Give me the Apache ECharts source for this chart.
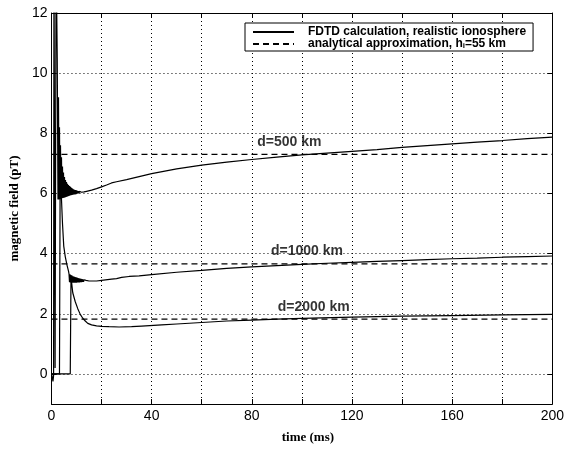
<!DOCTYPE html>
<html>
<head>
<meta charset="utf-8">
<title>magnetic field</title>
<script src="https://cdn.jsdelivr.net/npm/echarts@6/dist/echarts.min.js"></script>
<style>
  html, body { margin: 0; padding: 0; background: #fff; }
  #chart { width: 567px; height: 449px; }
</style>
</head>
<body>
<div id="chart"></div>
<script>
// values: [time (ms), field (pT)]
var fdtd500 = [
  [0,0],[0.3,-0.1],[0.6,-0.25],[0.85,-0.05],[1.0,14],[1.3,14],[1.45,0.2],[1.85,14],[2.3,10.5],
  [2.6,5.8],[2.8,9.2],
  [3.0,5.80],[3.2,8.2],[3.4,5.81],[3.6,7.6],[3.8,5.82],[4.0,7.2],[4.2,5.84],[4.4,6.9],[4.6,5.85],
  [4.8,6.7],[5.0,5.86],[5.2,6.55],[5.4,5.87],[5.6,6.45],[5.8,5.88],[6.0,6.38],[6.2,5.89],[6.4,6.32],
  [6.6,5.91],[6.8,6.28],[7.0,5.92],[7.2,6.25],[7.4,5.93],[7.6,6.22],[7.8,5.94],[8.0,6.19],[8.2,5.95],
  [8.4,6.16],[8.6,5.96],[8.8,6.14],[9.0,5.97],[9.2,6.12],[9.4,5.97],[9.6,6.11],[9.8,5.98],[10.0,6.10],
  [10.2,5.99],[10.4,6.09],[10.6,6.00],[10.8,6.08],[11.0,6.00],[11.2,6.07],[11.4,6.01],[11.6,6.06],
  [11.8,6.02],[12.0,6.04],
  [13,6.05],[14,6.07],[16,6.11],[18,6.16],[20,6.22],[22,6.28],[24,6.35],[26,6.39],[30,6.46],[35,6.56],
  [40,6.66],[50,6.82],[60,6.94],[70,7.04],[80,7.13],[90,7.21],[100,7.28],[110,7.34],[120,7.40],
  [130,7.46],[140,7.53],[150,7.59],[160,7.65],[170,7.71],[180,7.76],[190,7.82],[200,7.87]
];
var fdtd1000 = [
  [0,0],[3.2,0],[3.45,6.25],[3.9,6.0],[4.4,5.0],[4.9,4.25],[5.5,3.9],[6.2,3.62],[6.8,3.42],
  [7.0,3.33],[7.2,3.05],[7.4,3.31],[7.6,3.04],[7.8,3.29],[8.0,3.03],[8.2,3.27],[8.4,3.03],[8.6,3.25],
  [8.8,3.03],[9.0,3.24],[9.2,3.03],[9.4,3.22],[9.6,3.03],[9.8,3.21],[10.0,3.03],[10.2,3.20],[10.4,3.04],
  [10.6,3.19],[10.8,3.04],[11.0,3.18],[11.2,3.04],[11.4,3.17],[11.6,3.05],[11.8,3.16],[12.0,3.05],
  [12.2,3.15],[12.4,3.06],[12.6,3.14],[12.8,3.06],[13.0,3.13],[13.2,3.07],[13.4,3.12],[13.6,3.07],
  [13.8,3.11],[14.0,3.08],
  [15,3.09],[16,3.09],[18,3.09],[20,3.11],[24,3.15],[26,3.17],[28,3.21],[31,3.24],[35,3.26],[40,3.30],
  [50,3.38],[60,3.44],[70,3.51],[80,3.56],[90,3.60],[100,3.64],[110,3.68],[120,3.71],[130,3.74],
  [140,3.77],[150,3.80],[160,3.83],[170,3.85],[180,3.88],[190,3.90],[200,3.92]
];
var fdtd2000 = [
  [0,0],[4,0],[7.5,0],[7.8,3.25],[8.1,3.0],[8.5,2.7],[9.5,2.4],[10.5,2.17],[11.5,1.98],[12.5,1.85],
  [13.5,1.76],[14.5,1.68],[16,1.63],[18,1.60],[20,1.58],[23,1.57],[27,1.56],[32,1.57],[36,1.59],
  [44,1.63],[50,1.66],[60,1.71],[70,1.76],[80,1.79],[90,1.82],[100,1.85],[120,1.89],[140,1.92],
  [160,1.94],[180,1.96],[200,1.98]
];
var anaLevels = [7.30, 3.66, 1.82];   // analytical approximation, pT
var anaSpan = [0, 200];
var labelText = ['d=500 km', 'd=1000 km', 'd=2000 km'];
var labelTime = [95, 102, 104.7];
var labelField = [7.70, 4.07, 2.22];
var yTicks = [0, 2, 4, 6, 8, 10, 12];

var NAME_FDTD = 'FDTD calculation, realistic ionosphere';
var NAME_ANA = 'analytical approximation, h_i=55 km';

var myChart = echarts.init(document.getElementById('chart'));

var boxLine = { show: true, onZero: false, lineStyle: { color: '#000', width: 1 } };
var inTick = { show: true, inside: true, length: 5, lineStyle: { color: '#000', width: 1 } };
var dotted = { show: true, lineStyle: { color: '#000', width: 1, type: [1, 3] } };
var tickFont = { color: '#000', fontSize: 14, fontFamily: 'Liberation Sans' };
var titleFont = { color: '#000', fontSize: 13, fontWeight: 'bold', fontFamily: 'Liberation Serif' };

var series = [];
[fdtd500, fdtd1000, fdtd2000].forEach(function (d) {
  series.push({
    name: NAME_FDTD, type: 'line', data: d, symbol: 'none', silent: true,
    lineStyle: { color: '#000', width: 1.2 }, itemStyle: { color: '#000' }
  });
});
anaLevels.forEach(function (v) {
  series.push({
    name: NAME_ANA, type: 'line', symbol: 'none', silent: true,
    data: [[anaSpan[0], v], [anaSpan[1], v]],
    lineStyle: { color: '#000', width: 1.2, type: [6, 4] }, itemStyle: { color: '#000' }
  });
});
series.push({
  type: 'scatter', silent: true, symbolSize: 1,
  itemStyle: { color: 'transparent' },
  data: labelText.map(function (s, i) { return [labelTime[i], labelField[i], s]; }),
  label: {
    show: true, position: 'inside', color: '#000', fontSize: 14, fontWeight: 'bold',
    fontFamily: 'Liberation Sans',
    formatter: function (p) { return p.data[2]; }
  }
});

var option = {
  animation: false,
  backgroundColor: '#fff',
  grid: { left: 47, right: 13, top: 13, bottom: 39 },
  legend: {
    data: [NAME_FDTD, NAME_ANA],
    orient: 'vertical',
    left: 245, top: 23,
    padding: [3, 7, 1, 7],
    itemGap: 0,
    itemWidth: 41, itemHeight: 11,
    backgroundColor: '#fff',
    borderColor: '#000', borderWidth: 1, borderRadius: 0,
    selectedMode: false,
    itemStyle: { color: 'transparent', borderColor: 'transparent', borderWidth: 0, opacity: 0 },
    textStyle: { color: '#000', fontSize: 12, fontWeight: 'bold', fontFamily: 'Liberation Sans', lineHeight: 11,
      rich: {
        a: { color: '#000', fontSize: 12, fontWeight: 'bold', fontFamily: 'Liberation Sans', padding: [0, 0, 0, 9] },
        t: { color: '#000', fontSize: 12, fontWeight: 'bold', fontFamily: 'Liberation Sans' },
        s: { color: '#000', fontSize: 8, fontWeight: 'bold', fontFamily: 'Liberation Sans', padding: [4, 0, 0, 0] }
      }
    },
    formatter: function (name) {
      if (name === NAME_ANA) return '{a|analytical approximation, h}{s|i}{t|=55 km}';
      return '{a|' + name + '}';
    }
  },
  xAxis: [
    {
      type: 'value', min: 0, max: 200, interval: 20, position: 'bottom',
      axisLine: boxLine, axisTick: inTick, splitLine: dotted,
      axisLabel: Object.assign({ margin: 5, formatter: function (v) { return v % 40 === 0 ? v : ''; } }, tickFont),
      name: 'time (ms)', nameLocation: 'middle', nameGap: 27,
      nameTextStyle: Object.assign({ padding: [0, 0, 0, 12] }, titleFont)
    },
    {
      type: 'value', min: 0, max: 200, interval: 20, position: 'top',
      axisLine: boxLine, axisTick: inTick, splitLine: { show: false }, axisLabel: { show: false }
    }
  ],
  yAxis: [
    {
      type: 'value', min: -1, max: 12, interval: 1, position: 'left',
      axisLine: boxLine,
      axisTick: Object.assign({ customValues: yTicks }, inTick),
      splitLine: dotted,
      axisLabel: Object.assign({ margin: 4, customValues: yTicks }, tickFont),
      name: 'magnetic field (pT)', nameLocation: 'middle', nameGap: 26, nameRotate: 90,
      nameTextStyle: titleFont
    },
    {
      type: 'value', min: -1, max: 12, interval: 1, position: 'right',
      axisLine: boxLine,
      axisTick: Object.assign({ customValues: yTicks }, inTick),
      splitLine: { show: false }, axisLabel: { show: false }
    }
  ],
  series: series
};
myChart.setOption(option);
</script>
</body>
</html>
